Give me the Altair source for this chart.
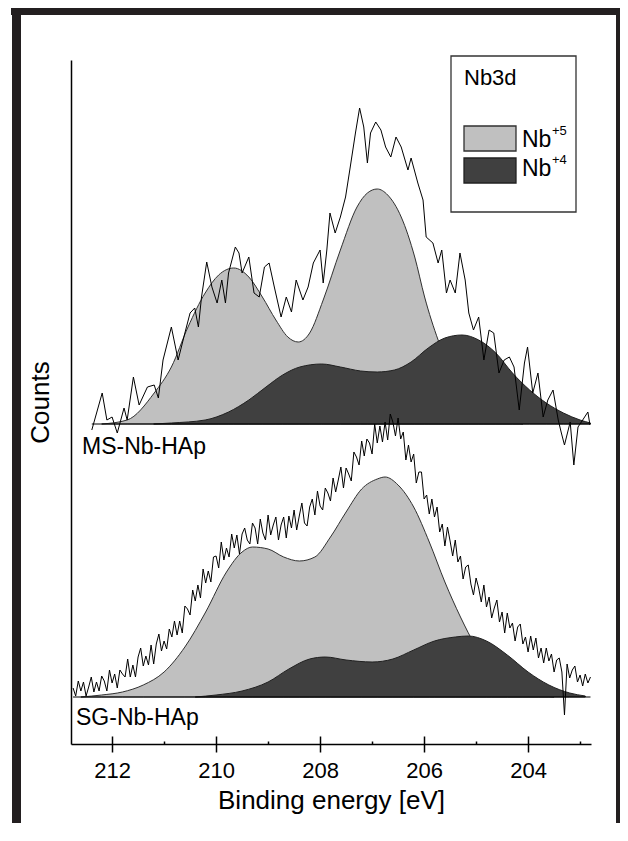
import altair as alt
import pandas as pd

# ---------------- data ----------------
# MS-Nb-HAp raw spectrum: binding energy [eV] and counts above background (a.u.)
MS_E = [212.39, 212.19, 212.10, 212.00, 211.90, 211.77, 211.71, 211.59, 211.48, 211.32,
        211.19, 211.11, 211.02, 210.86, 210.73, 210.60, 210.50, 210.41, 210.34, 210.28,
        210.18, 210.08, 209.98, 209.89, 209.82, 209.76, 209.63, 209.56, 209.50, 209.37,
        209.27, 209.17, 209.07, 208.98, 208.88, 208.75, 208.65, 208.55, 208.46, 208.33,
        208.23, 208.13, 208.00, 207.94, 207.87, 207.81, 207.71, 207.61, 207.51, 207.42,
        207.32, 207.24, 207.16, 207.09, 207.03, 206.93, 206.83, 206.74, 206.64, 206.54,
        206.44, 206.31, 206.25, 206.12, 206.02, 205.96, 205.83, 205.73, 205.66, 205.57,
        205.50, 205.40, 205.31, 205.21, 205.14, 205.05, 204.95, 204.85, 204.75, 204.66,
        204.56, 204.46, 204.36, 204.27, 204.17, 204.07, 204.01, 203.91, 203.81, 203.71,
        203.62, 203.52, 203.42, 203.36, 203.30, 203.19, 203.12, 203.04, 202.95, 202.85,
        202.81]
MS_C = [-6, 31, 4, 7, -9, 16, 4, 47, 19, 37,
        39, 26, 64, 97, 64, 91, 111, 116, 97, 127,
        162, 137, 121, 144, 121, 151, 177, 171, 151, 167,
        131, 127, 157, 161, 137, 107, 127, 112, 144, 124,
        137, 161, 174, 141, 174, 211, 191, 207, 227, 257,
        291, 316, 297, 261, 291, 302, 294, 277, 267, 287,
        277, 254, 266, 241, 224, 187, 181, 161, 174, 131,
        144, 131, 171, 144, 111, 94, 107, 64, 94, 91,
        51, 64, 67, 57, 14, 61, 77, 31, 51, 7,
        24, 34, 4, -9, -21, 2, -41, -3, 4, 12,
        -1]

# MS-Nb-HAp fitted components
MS_NB5_E = [212.20, 211.71, 211.19, 210.86, 210.54, 210.21, 209.95, 209.66, 209.37, 209.11,
            208.85, 208.62, 208.42, 208.20, 207.94, 207.61, 207.29, 207.09, 206.90, 206.70,
            206.44, 206.18, 205.99, 205.73, 205.45, 205.15, 204.85, 204.50, 204.10]
MS_NB5_C = [0, 4, 31, 57, 97, 131, 149, 156, 147, 127,
            104, 87, 82, 91, 124, 174, 217, 231, 235, 229,
            207, 167, 127, 84, 50, 25, 11, 4, 0]
MS_NB4_E = [211.20, 210.86, 210.21, 209.76, 209.37, 209.04, 208.72, 208.39, 207.97, 207.61,
            207.22, 206.90, 206.57, 206.25, 205.92, 205.60, 205.27, 204.95, 204.62, 204.30,
            203.97, 203.65, 203.32, 203.00, 202.80]
MS_NB4_C = [0, 1, 4, 12, 24, 37, 49, 57, 60, 57,
            53, 52, 54, 62, 76, 86, 89, 84, 71, 51,
            34, 21, 11, 4, 1]

# SG-Nb-HAp raw spectrum, recorded every 0.05 eV from 212.75 eV down
SG_START, SG_STEP = 212.75, 0.05
SG_C = [9, 1, 16, 6, 15, 1, 10, 20, 5, 15,
        6, 21, 16, 6, 27, 14, 23, 9, 27, 23,
        20, 38, 20, 32, 20, 40, 49, 31, 41, 32,
        52, 33, 53, 63, 46, 56, 48, 68, 60, 76,
        62, 76, 64, 91, 88, 82, 107, 96, 112, 99,
        128, 114, 126, 115, 140, 141, 129, 155, 137, 149,
        140, 163, 149, 162, 143, 163, 169, 157, 153, 174,
        169, 153, 178, 164, 157, 182, 162, 172, 180, 157,
        172, 180, 159, 181, 169, 187, 167, 181, 194, 174,
        171, 190, 198, 182, 206, 191, 187, 209, 204, 196,
        219, 205, 217, 230, 209, 229, 223, 216, 245, 240,
        232, 256, 241, 258, 254, 243, 273, 254, 271, 255,
        275, 257, 283, 275, 261, 279, 258, 265, 237, 252,
        235, 243, 214, 225, 225, 198, 202, 183, 198, 180,
        190, 165, 173, 151, 170, 156, 141, 157, 135, 141,
        118, 130, 132, 113, 102, 119, 109, 95, 112, 90,
        100, 79, 89, 97, 75, 85, 64, 84, 69, 74,
        56, 70, 73, 53, 60, 45, 61, 47, 59, 39,
        49, 34, 49, 36, 43, 25, 37, 39, 25, -18,
        33, 19, 27, 31, 15, 22, 11, 23, 14, 20]
SG_E = [round(SG_START - SG_STEP * i, 2) for i in range(len(SG_C))]

# SG-Nb-HAp fitted components
SG_NB5_E = [212.6, 212.2, 211.8, 211.4, 211.0, 210.6, 210.2, 209.8, 209.5, 209.3,
            209.0, 208.7, 208.4, 208.1, 207.8, 207.5, 207.2, 206.9, 206.75, 206.5,
            206.2, 205.9, 205.6, 205.3, 205.0, 204.7, 204.4, 204.1, 203.8, 203.5]
SG_NB5_C = [0, 2, 5, 12, 25, 50, 85, 125, 145, 150,
            148, 140, 136, 140, 160, 185, 208, 218, 220, 212,
            190, 155, 115, 80, 50, 28, 14, 6, 2, 0]
SG_NB4_E = [210.4, 210.0, 209.5, 209.0, 208.6, 208.2, 207.9, 207.5, 207.0, 206.6,
            206.2, 205.8, 205.4, 205.15, 204.8, 204.4, 204.0, 203.6, 203.2, 202.9]
SG_NB4_C = [0, 2, 6, 15, 28, 38, 40, 37, 35, 38,
            47, 56, 60, 61, 56, 42, 25, 12, 4, 1]

# vertical stacking offsets of the two spectra (same count units)
OFFSET = {"MS-Nb-HAp": 320, "SG-Nb-HAp": 47}
X_TICKS = [212, 210, 208, 206, 204]
X_ALL_TICKS = [212, 211, 210, 209, 208, 207, 206, 205, 204, 203]

# ---------------- tables ----------------
def rows(spec, comp, E, C):
    return [{"spectrum": spec, "comp": comp, "E": e, "y": OFFSET[spec] + c,
             "y0": OFFSET[spec]} for e, c in zip(E, C)]

raw = pd.DataFrame(rows("MS-Nb-HAp", "raw", MS_E, MS_C) + rows("SG-Nb-HAp", "raw", SG_E, SG_C))
nb5 = pd.DataFrame(rows("MS-Nb-HAp", "Nb5", MS_NB5_E, MS_NB5_C) + rows("SG-Nb-HAp", "Nb5", SG_NB5_E, SG_NB5_C))
nb4 = pd.DataFrame(rows("MS-Nb-HAp", "Nb4", MS_NB4_E, MS_NB4_C) + rows("SG-Nb-HAp", "Nb4", SG_NB4_E, SG_NB4_C))
base = pd.DataFrame(rows("MS-Nb-HAp", "bg", [MS_E[0], MS_E[-1]], [0, 0]) +
                    rows("SG-Nb-HAp", "bg", [SG_E[0], SG_E[-1]], [0, 0]))

FONT = "Liberation Sans"
W, H = 520, 684
xscale = alt.Scale(domain=[202.79, 212.79], reverse=True, nice=False, zero=False)
yscale = alt.Scale(domain=[0, 684], nice=False, zero=False)

yaxis = alt.Axis(orient="left", ticks=False, labels=False, grid=False, domainColor="black",
                 domainWidth=1.5, title="Counts", titleFont=FONT, titleFontSize=26,
                 titleFontWeight="normal", titleColor="black", titlePadding=18)
xaxis_bottom = alt.Axis(orient="bottom", values=X_TICKS, tickSize=8, tickWidth=1.5, tickColor="black",
                        domainColor="black", domainWidth=1.5, labelFont=FONT, labelFontSize=22,
                        labelColor="black", labelPadding=8, labelFlush=False, labelOverlap=False,
                        format="d", grid=False, title="Binding energy [eV]", titleFont=FONT,
                        titleFontSize=26, titleFontWeight="normal", titleColor="black", titlePadding=6)
xaxis_inner = alt.Axis(orient="top", offset=-H, values=X_ALL_TICKS,
                       tickSize={"condition": {"test": "datum.value % 2 === 0", "value": 8}, "value": 3},
                       tickWidth=1.5, tickColor="black", domain=False, labels=False, grid=False, title=None)

def xenc(axis=None):
    if axis is None:
        return alt.X("E:Q", scale=xscale, axis=None)
    return alt.X("E:Q", scale=xscale, axis=axis)

def yenc():
    return alt.Y("y:Q", scale=yscale, axis=yaxis)

a5 = alt.Chart(nb5).mark_area(fill="#c0c0c0", stroke="#303030", strokeWidth=1,
                              interpolate="monotone").encode(
    x=xenc(), y=yenc(), y2="y0:Q", detail="spectrum:N")
a4 = alt.Chart(nb4).mark_area(fill="#404040", stroke="#202020", strokeWidth=1,
                              interpolate="monotone").encode(
    x=xenc(), y=yenc(), y2="y0:Q", detail="spectrum:N")
lraw = alt.Chart(raw).mark_line(color="black", strokeWidth=1).encode(
    x=xenc(), y=yenc(), detail="spectrum:N")
lbase = alt.Chart(base).mark_line(color="black", strokeWidth=1.2).encode(
    x=xenc(xaxis_bottom), y=yenc(), detail="spectrum:N")
ticks_in = alt.Chart(base).mark_line(opacity=0).encode(
    x=xenc(xaxis_inner), y=yenc(), detail="spectrum:N")

one = alt.Data(values=[{"k": 1}])

def txt(s, x, y, size, align="left"):
    return alt.Chart(one).mark_text(text=s, font=FONT, fontSize=size, color="black",
                                    align=align, baseline="middle").encode(
        x=alt.value(x), y=alt.value(y))

def box(x, x2, y, y2, fill, stroke, sw):
    return alt.Chart(one).mark_rect(fill=fill, stroke=stroke, strokeWidth=sw).encode(
        x=alt.value(x), x2=alt.value(x2), y=alt.value(y), y2=alt.value(y2))

def rule(x, x2, y, y2, sw, color="#231f20"):
    return alt.Chart(one).mark_rule(color=color, strokeWidth=sw).encode(
        x=alt.value(x), x2=alt.value(x2), y=alt.value(y), y2=alt.value(y2))

legend = [
    box(380, 505, -4, 152, "white", "#333333", 1.3),
    txt("Nb3d", 393, 18, 22),
    box(393, 445, 66, 91, "#c0c0c0", "#303030", 1.3),
    box(393, 445, 98, 123, "#404040", "#202020", 1.3),
    txt("Nb", 451, 80, 23),
    txt("+5", 481, 71, 13),
    txt("Nb", 451, 109, 23),
    txt("+4", 481, 100, 13),
]
labels = [txt("MS-Nb-HAp", 11, 387, 23), txt("SG-Nb-HAp", 5, 658, 23)]
frame = [
    rule(-54.5, -54.5, -60, 780, 9),
    rule(-60, 560, -49, -49, 8),
    rule(547, 547, -60, 780, 4),
]

chart = alt.layer(a5, a4, lraw, lbase, ticks_in, *labels, *legend, *frame).resolve_axis(
    x="independent").properties(
    width=W, height=H,
    autosize=alt.AutoSizeParams(type="none"),
    padding={"left": 63, "top": 52, "right": 29, "bottom": 79},
    background="white",
).configure_view(strokeWidth=0)

chart.save("out.html", embed_options={"renderer": "svg", "actions": False})
